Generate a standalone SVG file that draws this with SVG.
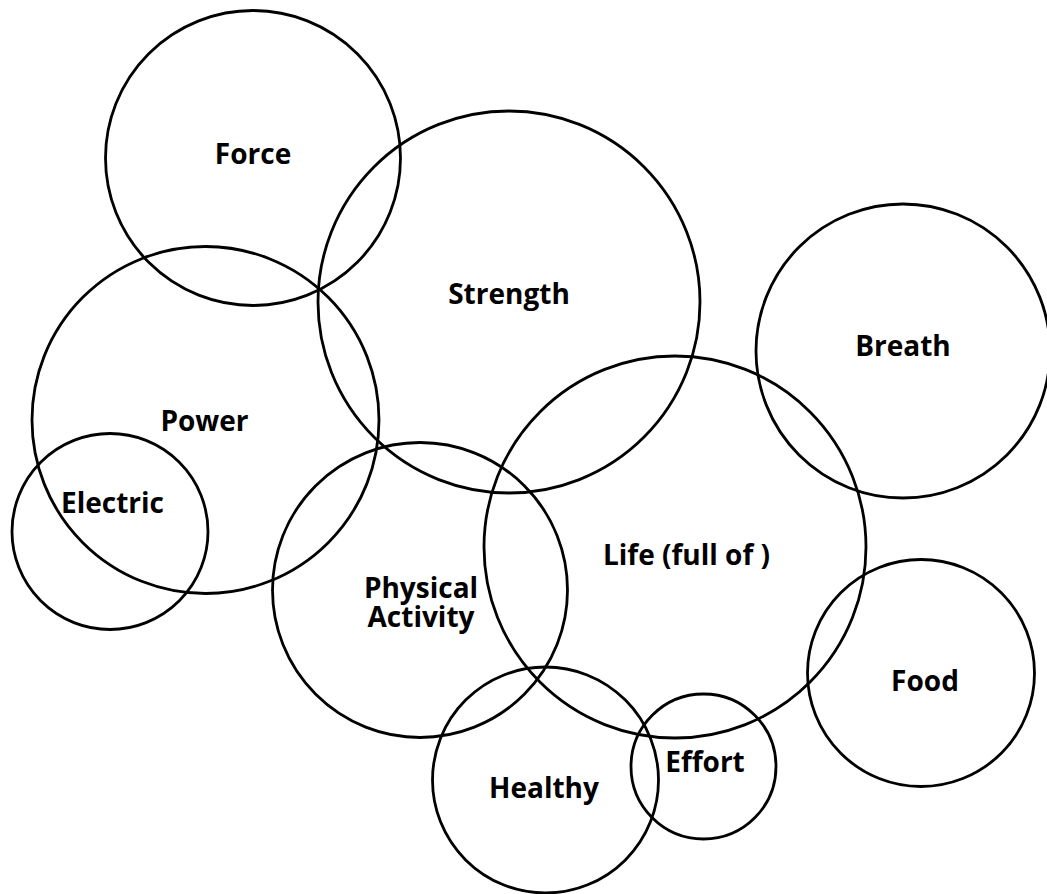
<svg xmlns="http://www.w3.org/2000/svg" width="1047" height="894" viewBox="0 0 1047 894">
<style>
.c{fill:none;stroke:#000;stroke-width:2.8}
.t{font-family:"Open Sans","Liberation Sans",sans-serif;font-weight:bold;font-size:28px;fill:#000;text-anchor:middle}
</style>
<rect width="1047" height="894" fill="#fff"/>
<g id="force"><circle class="c" cx="253" cy="158" r="147.5"/><text class="t" x="253" y="164">Force</text></g>
<g id="strength"><circle class="c" cx="509" cy="302" r="191"/><text class="t" x="509" y="304">Strength</text></g>
<g id="power"><circle class="c" cx="205.5" cy="420" r="173.5"/><text class="t" x="204.5" y="431">Power</text></g>
<g id="electric"><circle class="c" cx="110" cy="531.5" r="98"/><text class="t" x="112.5" y="513">Electric</text></g>
<g id="breath"><circle class="c" cx="903" cy="351" r="147"/><text class="t" x="903" y="356">Breath</text></g>
<g id="life"><circle class="c" cx="675" cy="547" r="191"/><text class="t" x="686.5" y="565">Life (full of )</text></g>
<g id="physical-activity"><circle class="c" cx="420" cy="590" r="147.5"/><text class="t" x="421" y="598">Physical<tspan x="421" dy="29">Activity</tspan></text></g>
<g id="healthy"><circle class="c" cx="545.5" cy="780" r="113"/><text class="t" x="544" y="798">Healthy</text></g>
<g id="effort"><circle class="c" cx="703.5" cy="766.5" r="72.5"/><text class="t" x="705" y="772">Effort</text></g>
<g id="food"><circle class="c" cx="921" cy="673" r="113.5"/><text class="t" x="925" y="691">Food</text></g>
<g id="connectors"></g>
</svg>
